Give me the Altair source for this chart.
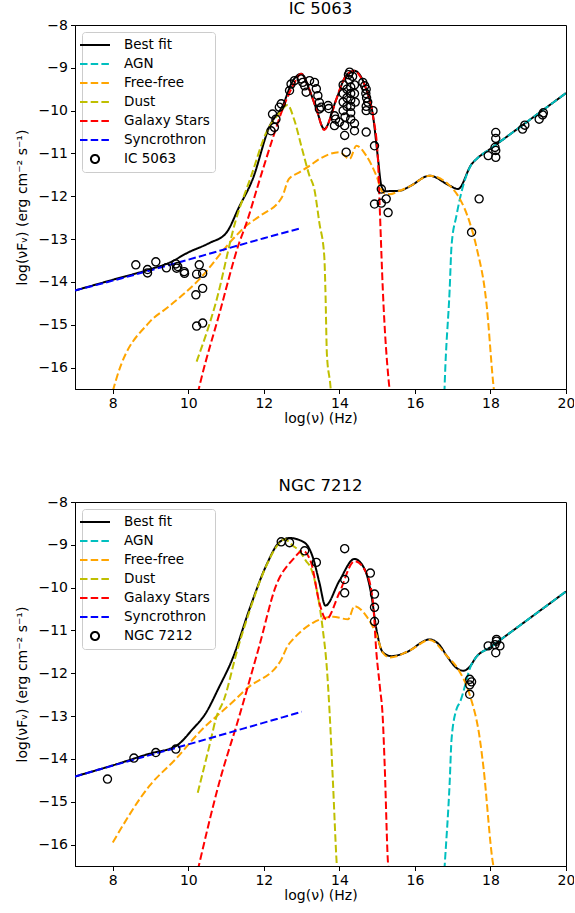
import altair as alt
import pandas as pd

FONT = "DejaVu Sans"

COMPONENTS = ["Best fit", "AGN", "Free-free", "Dust", "Galaxy Stars", "Syncrothron"]
COLORS = ["#000000", "#00bfbf", "#ffa500", "#bfbf00", "#ff0000", "#0000ff"]
DASH = [7.5, 3.2]
SOLID = [1, 0]

X_TICKS = [8, 10, 12, 14, 16, 18, 20]
Y_TICKS = [-16, -15, -14, -13, -12, -11, -10, -9, -8]

# ---------------- IC 5063 ----------------
IC_NAME = "IC 5063"
IC_FIT_X = [7.0, 8.0, 9.0, 9.5, 10.0, 10.56, 11.0, 11.35, 11.7, 12.15, 12.5, 12.77, 12.99, 13.2,
            13.39, 13.6, 13.92, 14.18, 14.4, 14.71, 14.89, 15.02, 15.11, 15.2, 15.6, 15.86, 16.39,
            16.92, 17.14, 17.5, 17.63, 18.0, 19.0, 20.0]
IC_FIT_Y = [-14.2, -13.95, -13.7, -13.55, -13.31, -13.09, -12.86, -12.24, -11.61, -10.37, -9.88,
            -9.3, -9.14, -9.5, -9.96, -10.43, -9.73, -9.18, -9.07, -9.5, -10.12, -11.1, -11.75,
            -11.88, -11.87, -11.77, -11.52, -11.75, -11.83, -11.25, -11.13, -10.89, -10.24, -9.59]
IC_AGN_X = [16.78, 16.79, 16.92, 16.97, 17.1, 17.19, 17.5, 17.63, 18.0, 19.0, 20.0]
IC_AGN_Y = [-16.6, -16.34, -14.17, -13.15, -12.45, -12.06, -11.25, -11.13, -10.89, -10.24, -9.59]
IC_FF_X = [8.0, 8.12, 8.96, 9.49, 10.29, 11.17, 11.53, 11.88, 12.48, 12.66, 12.94, 13.21, 13.47,
           14.0, 14.27, 14.45, 14.71, 14.98, 15.15, 15.33, 15.6, 15.86, 16.39, 16.92, 17.19,
           17.45, 17.63, 17.9, 18.07, 18.1]
IC_FF_Y = [-16.55, -16.19, -14.95, -14.57, -13.94, -13.01, -12.69, -12.47, -12.02, -11.6, -11.44,
           -11.29, -11.13, -10.97, -11.13, -10.82, -11.05, -11.52, -11.91, -11.95, -11.87, -11.77,
           -11.52, -11.75, -12.06, -12.61, -13.19, -14.55, -16.34, -16.6]
IC_DUST_X = [10.22, 10.73, 11.26, 11.66, 12.06, 12.41, 12.63, 12.8, 13.0, 13.2, 13.34, 13.47,
             13.6, 13.63, 13.67, 13.76, 13.78]
IC_DUST_Y = [-15.86, -14.48, -12.55, -11.54, -10.52, -10.06, -9.87, -10.2, -10.85, -11.5, -11.85,
             -12.62, -13.4, -14.18, -15.7, -16.4, -16.6]
IC_STARS_X = [10.25, 10.34, 10.82, 11.35, 11.53, 11.88, 12.23, 12.5, 12.77, 12.99, 13.2, 13.39,
              13.6, 13.75, 13.92, 14.18, 14.4, 14.55, 14.71, 14.89, 15.02, 15.07, 15.15, 15.31, 15.34]
IC_STARS_Y = [-16.6, -16.27, -14.75, -13.08, -12.65, -11.64, -10.66, -9.96, -9.42, -9.14, -9.5,
              -9.96, -10.45, -10.2, -9.73, -9.18, -9.07, -9.2, -9.5, -10.12, -11.13, -12.3, -14.18,
              -16.35, -16.6]
IC_SYNC_X = [7.0, 8.0, 10.0, 12.0, 13.0]
IC_SYNC_Y = [-14.2, -13.97, -13.48, -12.98, -12.74]

IC_OBS_X = [8.61, 8.92, 8.92, 9.14, 9.42, 9.67, 9.69, 9.72, 9.89, 9.9, 10.29, 10.22, 10.38, 10.38,
            10.2, 10.22, 10.38,
            12.19, 12.28, 12.32, 12.23, 12.41, 12.46, 12.68, 12.72, 12.81, 12.99, 13.03, 13.08,
            13.12, 13.21, 13.34, 13.39, 13.43, 13.47, 13.52, 13.47, 13.7, 13.72, 13.87, 13.87,
            13.9, 14.0,
            14.1, 14.1, 14.1, 14.1, 14.15, 14.14, 14.14, 14.18, 14.2, 14.2, 14.2, 14.24, 14.27,
            14.27, 14.3, 14.3, 14.3, 14.3, 14.3, 14.3, 14.35, 14.4, 14.4, 14.42, 14.4, 14.4,
            14.62, 14.67, 14.71, 14.7, 14.72, 14.75, 14.71, 14.71, 14.71, 14.89, 14.93,
            15.11, 15.24, 14.93, 15.11, 15.29,
            18.14, 18.14, 18.12, 18.14, 17.94, 18.14, 17.7, 17.5, 18.85, 18.91, 19.29, 19.38, 19.4]
IC_OBS_Y = [-13.6, -13.71, -13.79, -13.53, -13.67, -13.58, -13.68, -13.64, -13.76, -13.8, -13.6,
            -13.82, -13.8, -14.15, -14.3, -15.03, -14.96,
            -10.47, -10.39, -10.2, -10.08, -9.92, -9.84, -9.53, -9.38, -9.3, -9.26, -9.34, -9.42,
            -9.57, -9.3, -9.34, -9.49, -9.65, -9.81, -9.92, -9.96, -9.88, -9.95, -10.12, -10.35,
            -10.2, -10.27,
            -9.4, -9.6, -9.8, -10.0, -10.15, -10.58, -10.35, -10.97, -9.5, -9.7, -9.9, -9.16,
            -9.1, -9.28, -9.45, -9.6, -9.75, -9.9, -10.05, -10.2, -9.2, -9.4, -9.6, -9.8, -10.3,
            -10.47,
            -9.34, -9.42, -9.5, -9.6, -9.7, -9.8, -9.9, -10.0, -10.5, -10.0, -10.82,
            -11.83, -12.06, -12.18, -12.16, -12.38,
            -10.51, -10.65, -10.86, -10.93, -11.05, -11.09, -12.06, -12.84, -10.43, -10.34,
            -10.2, -10.1, -10.05]

# ---------------- NGC 7212 ----------------
NGC_NAME = "NGC 7212"
NGC_FIT_X = [7.0, 8.0, 9.0, 9.67, 10.11, 10.47, 10.8, 11.17, 11.62, 12.06, 12.41, 12.68, 13.08,
             13.25, 13.3, 13.47, 13.63, 14.0, 14.4, 14.67, 14.85, 14.98, 15.15, 15.38, 15.77,
             16.39, 16.66, 16.84, 17.14, 17.28, 17.5, 17.59, 18.0, 19.0, 20.0]
NGC_FIT_Y = [-14.41, -14.15, -13.87, -13.7, -13.31, -12.92, -12.35, -11.66, -10.5, -9.49, -8.94,
             -8.84, -8.95, -9.18, -9.3, -9.88, -10.42, -9.84, -9.33, -9.57, -10.19, -10.97,
             -11.51, -11.6, -11.51, -11.21, -11.35, -11.59, -11.9, -11.94, -11.79, -11.66,
             -11.39, -10.74, -10.09]
NGC_AGN_X = [16.78, 16.79, 16.92, 16.97, 17.1, 17.19, 17.5, 17.59, 18.0, 19.0, 20.0]
NGC_AGN_Y = [-16.6, -16.46, -14.55, -13.54, -12.84, -12.68, -11.79, -11.66, -11.39, -10.74, -10.09]
NGC_FF_X = [8.0, 8.97, 9.67, 10.29, 11.26, 11.53, 12.45, 12.63, 12.77, 13.3, 13.83, 14.23, 14.4,
            14.71, 14.98, 15.15, 15.33, 15.86, 16.39, 16.84, 17.14, 17.45, 17.72, 17.81, 18.07,
            18.1]
NGC_FF_Y = [-15.95, -14.63, -14.0, -13.38, -12.6, -12.37, -11.7, -11.36, -11.21, -10.82, -10.68,
            -10.74, -10.43, -10.66, -11.1, -11.52, -11.63, -11.47, -11.22, -11.59, -11.9, -12.5,
            -13.54, -14.16, -16.46, -16.6]
NGC_DUST_X = [10.25, 10.6, 10.73, 10.95, 11.3, 11.62, 12.06, 12.41, 12.55, 12.77, 12.95, 13.12,
              13.25, 13.43, 13.56, 13.67, 13.74, 13.83, 13.93, 13.94]
NGC_DUST_Y = [-14.79, -13.54, -13.06, -12.6, -11.45, -10.55, -9.5, -8.96, -8.87, -9.02, -9.15,
              -9.38, -9.55, -10.19, -10.97, -11.9, -12.9, -14.55, -16.46, -16.6]
NGC_STARS_X = [10.25, 10.82, 11.35, 11.88, 12.32, 12.77, 13.03, 13.25, 13.47, 13.65, 14.0, 14.4,
               14.71, 14.89, 14.98, 15.07, 15.15, 15.2, 15.29, 15.31]
NGC_STARS_Y = [-16.6, -14.55, -13.0, -11.36, -9.96, -9.34, -9.14, -9.41, -10.35, -10.74, -10.12,
               -9.38, -9.65, -10.35, -11.52, -12.3, -13.07, -14.16, -16.46, -16.6]
NGC_SYNC_X = [7.0, 8.5, 10.0, 11.5, 13.0]
NGC_SYNC_Y = [-14.41, -14.03, -13.66, -13.28, -12.9]

NGC_OBS_X = [7.86, 8.56, 9.14, 9.67, 12.46, 12.68, 13.08, 13.39, 14.14, 14.14, 14.14, 14.82,
             14.93, 14.93, 14.93, 18.16, 18.12, 17.94, 18.25, 18.14, 18.16, 17.45, 17.5, 17.45,
             17.45]
NGC_OBS_Y = [-14.47, -13.98, -13.85, -13.77, -8.93, -8.95, -9.14, -9.41, -9.09, -9.81, -10.12,
             -9.66, -10.15, -10.46, -10.79, -11.21, -11.33, -11.36, -11.36, -11.52, -11.25,
             -12.14, -12.2, -12.27, -12.49]

# symbol paths (unit box, scaled by sqrt(size)/2): a long horizontal stroke for the
# model curves and an open ring for the photometry
STROKE_PATH = "M-2,0H2"
RING_PATH = "M-0.54,0A0.54,0.54,0,1,0,0.54,0A0.54,0.54,0,1,0,-0.54,0Z"
SYMBOL_SIZE = 225


def sed_panel(name, curves, obs_x, obs_y):
    rows = []
    for comp, (xs, ys) in zip(COMPONENTS, curves):
        for i, (xv, yv) in enumerate(zip(xs, ys)):
            rows.append({"comp": comp, "x": xv, "y": yv, "i": i})
    lines = pd.DataFrame(rows)
    obs = pd.DataFrame({"x": obs_x, "y": obs_y, "comp": name})

    entries = COMPONENTS + [name]
    legend = alt.Legend(
        title=None, orient="top-left", offset=7, padding=4.5,
        fillColor="white", strokeColor="#cccccc", cornerRadius=3,
        labelFont=FONT, labelFontSize=13.5, labelColor="black", labelLimit=300,
        labelOffset=20.5, rowPadding=4, symbolSize=SYMBOL_SIZE, symbolStrokeWidth=2,
        symbolFillColor="transparent",
    )
    color = alt.Color("comp:N", scale=alt.Scale(domain=entries, range=COLORS + ["#000000"]),
                      legend=legend)
    dash = alt.StrokeDash("comp:N", scale=alt.Scale(domain=entries, range=[SOLID] + [DASH] * 5 + [SOLID]),
                          legend=legend)
    shape = alt.Shape("comp:N", scale=alt.Scale(domain=entries, range=[STROKE_PATH] * 6 + [RING_PATH]),
                      legend=legend)
    x = alt.X("x:Q", scale=alt.Scale(domain=[7, 20], nice=False, zero=False),
              axis=alt.Axis(values=X_TICKS, title="log(ν) (Hz)", labelFlush=False, labelOverlap=False,
                            titlePadding=1))
    y = alt.Y("y:Q", scale=alt.Scale(domain=[-16.5, -8], nice=False, zero=False),
              axis=alt.Axis(values=Y_TICKS, title="log(νFᵥ) (erg cm⁻² s⁻¹)", labelOverlap=False,
                            titlePadding=8))

    fit = alt.Chart(lines[lines.comp == "Best fit"]).mark_line(
        strokeWidth=2, clip=True, interpolate="monotone").encode(
        x=x, y=y, color=color, strokeDash=dash, order="i:Q")
    parts = alt.Chart(lines[lines.comp != "Best fit"]).mark_line(
        strokeWidth=2, clip=True, interpolate="monotone").encode(
        x=x, y=y, color=color, strokeDash=dash, order="i:Q")
    points = alt.Chart(obs).mark_point(filled=False, size=SYMBOL_SIZE, strokeWidth=1.35,
                                       opacity=1, clip=True).encode(x=x, y=y, color=color, shape=shape)
    return alt.layer(fit, parts, points).properties(width=491, height=364, title=name)


top = sed_panel(IC_NAME,
                [(IC_FIT_X, IC_FIT_Y), (IC_AGN_X, IC_AGN_Y), (IC_FF_X, IC_FF_Y),
                 (IC_DUST_X, IC_DUST_Y), (IC_STARS_X, IC_STARS_Y), (IC_SYNC_X, IC_SYNC_Y)],
                IC_OBS_X, IC_OBS_Y)
bottom = sed_panel(NGC_NAME,
                   [(NGC_FIT_X, NGC_FIT_Y), (NGC_AGN_X, NGC_AGN_Y), (NGC_FF_X, NGC_FF_Y),
                    (NGC_DUST_X, NGC_DUST_Y), (NGC_STARS_X, NGC_STARS_Y), (NGC_SYNC_X, NGC_SYNC_Y)],
                   NGC_OBS_X, NGC_OBS_Y)

chart = (
    alt.vconcat(top, bottom, spacing=51)
    .resolve_scale(color="independent", strokeDash="independent", shape="independent")
    .resolve_legend(color="independent", strokeDash="independent", shape="independent")
    .properties(padding={"left": 15, "right": -2, "top": 0, "bottom": 1}, background="white")
    .configure_view(stroke="black", strokeWidth=1)
    .configure_axis(grid=False, domainColor="black", domainWidth=1, tickColor="black", tickWidth=1,
                    tickSize=4.5, labelPadding=3, labelFont=FONT, labelFontSize=14, labelColor="black",
                    titleFont=FONT, titleFontSize=14, titleFontWeight="normal", titleColor="black")
    .configure_title(font=FONT, fontSize=16.5, fontWeight="normal", color="black", offset=-0.5, dy=-1)
)

chart.save("out.html", embed_options={"renderer": "svg", "actions": False})
